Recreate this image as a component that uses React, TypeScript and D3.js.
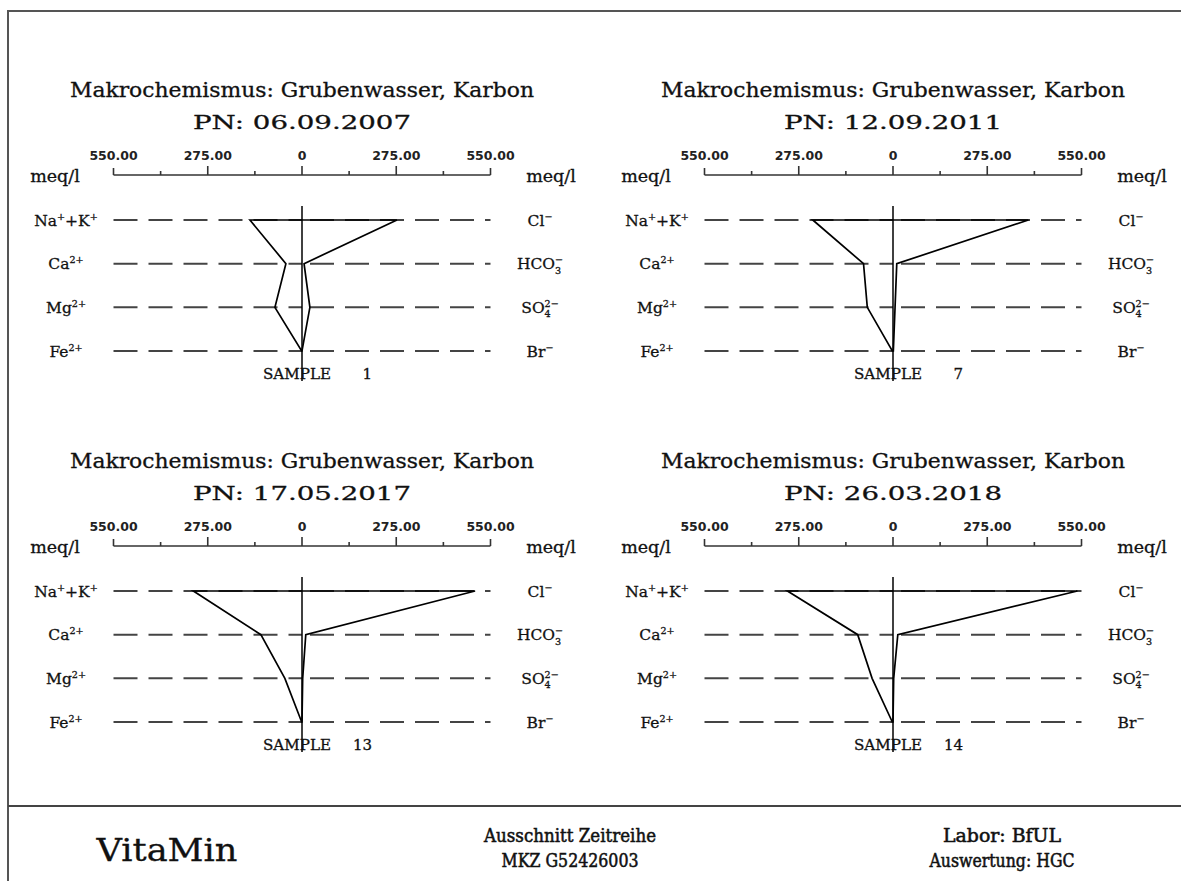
import React, { useEffect, useRef } from 'react';
import * as d3 from 'd3';

const W = 1181;
const H = 881;

// samples and their dates
const sampleNos = [1, 7, 13, 14];
const sampleDates = ['06.09.2007', '12.09.2011', '17.05.2017', '26.03.2018'];

// meq/l, left side (cations): Na+K, Ca, Mg, Fe
const cationVals = [
  [152, 47, 79, 1],
  [234, 86, 75, 2],
  [317, 120, 50, 1],
  [308, 103, 61, 2],
];
// meq/l, right side (anions): Cl, HCO3, SO4, Br
const anionVals = [
  [277, 6, 23, 0],
  [395, 11, 6, 1],
  [505, 11, 2, 0],
  [538, 14, 2, 0],
];

// label pieces: [text, kind]  kind: '' normal, 'sup' superscript, 'sub' subscript stacked under previous sup
const cationLabels: [string, string][][] = [
  [['Na', ''], ['+', 'sup'], ['+K', ''], ['+', 'sup']],
  [['Ca', ''], ['2+', 'sup']],
  [['Mg', ''], ['2+', 'sup']],
  [['Fe', ''], ['2+', 'sup']],
];
const anionLabels: [string, string][][] = [
  [['Cl', ''], ['−', 'sup']],
  [['HCO', ''], ['−', 'sup'], ['3', 'sub']],
  [['SO', ''], ['2−', 'sup'], ['4', 'sub']],
  [['Br', ''], ['−', 'sup']],
];

const axisMax = 550;
const minorTicks = [-412.5, -137.5, 137.5, 412.5];
const majorTicks = [-550, -275, 0, 275, 550];

const title = 'Makrochemismus: Grubenwasser, Karbon';
const footerLeft = 'VitaMin';
const footerMid = ['Ausschnitt Zeitreihe', 'MKZ G52426003'];
const footerRight = ['Labor: BfUL', 'Auswertung: HGC'];

const SERIF = "'DejaVu Serif', 'Liberation Serif', serif";
const SANS = "'DejaVu Sans', 'Liberation Sans', sans-serif";
const COND = "'DejaVu Serif Condensed', 'DejaVu Serif', serif";

const App = () => {
  const svgRef = useRef<SVGSVGElement>(null);

  useEffect(() => {
    const svg = d3.select(svgRef.current);
    svg.selectAll('*').remove();

    svg.append('rect').attr('width', W).attr('height', H).attr('fill', '#fff');

    // frame
    svg.append('path')
      .attr('d', `M${W + 5},11 H8 V${H + 5}`)
      .attr('fill', 'none').attr('stroke', '#555').attr('stroke-width', 2);
    svg.append('line')
      .attr('x1', 8).attr('x2', W + 5).attr('y1', 806).attr('y2', 806)
      .attr('stroke', '#444').attr('stroke-width', 2.2);

    // slightly heavier serif text like the plotter font
    const ink = (t) => t.attr('fill', '#111').attr('stroke', '#111').attr('stroke-width', 0.3);

    // draws a label made of pieces, centred at (cx, cy)
    const drawLabel = (parent, parts: [string, string][], cx: number, cy: number, size: number) => {
      const g = parent.append('g');
      let x = 0;
      let supStart = 0;
      let supEnd = 0;
      parts.forEach(([t, kind]) => {
        const small = kind !== '';
        const txt = g.append('text')
          .attr('font-family', SERIF)
          .attr('font-size', small ? size * 0.62 : size)
          .attr('y', kind === 'sup' ? -size * 0.38 : kind === 'sub' ? size * 0.28 : 0)
          .text(t);
        ink(txt);
        if (kind === 'sub') {
          txt.attr('x', supStart);
          const w = (txt.node() as SVGTextElement).getComputedTextLength();
          x = Math.max(supEnd, supStart + w);
        } else {
          txt.attr('x', x);
          const w = (txt.node() as SVGTextElement).getComputedTextLength();
          if (kind === 'sup') { supStart = x; supEnd = x + w; }
          x += w;
        }
      });
      g.attr('transform', `translate(${cx - x / 2},${cy + size * 0.36})`);
    };

    const panelCx = [302, 893];
    const panelOy = [0, 371];

    sampleNos.forEach((no, i) => {
      const cx = panelCx[i % 2];
      const oy = panelOy[Math.floor(i / 2)];
      const g = svg.append('g');

      const x = d3.scaleLinear().domain([-axisMax, axisMax]).range([cx - 188.5, cx + 188.5]);
      const y = d3.scalePoint<number>().domain([0, 1, 2, 3]).range([oy + 220, oy + 351]);

      ink(g.append('text')
        .attr('x', cx).attr('y', oy + 97)
        .attr('text-anchor', 'middle')
        .attr('font-family', SERIF).attr('font-size', 19.5)
        .attr('textLength', 464).attr('lengthAdjust', 'spacingAndGlyphs')
        .text(title));
      ink(g.append('text')
        .attr('x', cx).attr('y', oy + 129)
        .attr('text-anchor', 'middle')
        .attr('font-family', SERIF).attr('font-size', 19)
        .attr('textLength', 218).attr('lengthAdjust', 'spacingAndGlyphs')
        .text(`PN: ${sampleDates[i]}`));

      // scale bar
      const axY = oy + 175;
      g.append('line')
        .attr('x1', x(-axisMax)).attr('x2', x(axisMax)).attr('y1', axY).attr('y2', axY)
        .attr('stroke', '#333').attr('stroke-width', 1.6);
      g.selectAll('line.major').data(majorTicks).join('line')
        .attr('x1', d => x(d)).attr('x2', d => x(d))
        .attr('y1', axY).attr('y2', d => axY - (Math.abs(d) === axisMax ? 7 : 9))
        .attr('stroke', '#333').attr('stroke-width', 1.6);
      g.selectAll('line.minor').data(minorTicks).join('line')
        .attr('x1', d => x(d)).attr('x2', d => x(d))
        .attr('y1', axY).attr('y2', axY - 4)
        .attr('stroke', '#333').attr('stroke-width', 1.6);
      g.selectAll('text.tick').data(majorTicks).join('text')
        .attr('x', d => x(d)).attr('y', oy + 160)
        .attr('text-anchor', 'middle')
        .attr('font-family', SANS).attr('font-size', 12.5).attr('font-weight', 'bold').attr('fill', '#222')
        .text(d => (d === 0 ? '0' : Math.abs(d).toFixed(2)));

      [cx - 247, cx + 249].forEach(mx => {
        ink(g.append('text')
          .attr('x', mx).attr('y', oy + 182)
          .attr('text-anchor', 'middle')
          .attr('font-family', SERIF).attr('font-size', 17.5)
          .text('meq/l'));
      });

      // dashed guide lines
      [0, 1, 2, 3].forEach(k => {
        g.append('line')
          .attr('x1', x(-axisMax)).attr('x2', x(0)).attr('y1', y(k)).attr('y2', y(k))
          .attr('stroke', '#444').attr('stroke-width', 2).attr('stroke-dasharray', '24 11');
        g.append('line')
          .attr('x1', x(0)).attr('x2', x(axisMax)).attr('y1', y(k)).attr('y2', y(k))
          .attr('stroke', '#444').attr('stroke-width', 2).attr('stroke-dasharray', '24 11')
          .attr('stroke-dashoffset', 27);
        drawLabel(g, cationLabels[k], cx - 236, y(k), 15.5);
        drawLabel(g, anionLabels[k], cx + 238, y(k), 15.5);
      });

      // Stiff polygon
      const pts: [number, number][] = [
        ...cationVals[i].map((v, k) => [x(-v), y(k)] as [number, number]),
        ...anionVals[i].map((v, k) => [x(v), y(k)] as [number, number]).reverse(),
      ];
      g.append('path')
        .attr('d', d3.line()(pts) + 'Z')
        .attr('fill', 'none').attr('stroke', '#000').attr('stroke-width', 1.7)
        .attr('stroke-linejoin', 'miter');

      // centre line
      g.append('line')
        .attr('x1', x(0)).attr('x2', x(0)).attr('y1', oy + 206).attr('y2', oy + 381)
        .attr('stroke', '#000').attr('stroke-width', 1.5);

      ink(g.append('text')
        .attr('x', cx - 39).attr('y', oy + 379)
        .attr('font-family', SERIF).attr('font-size', 15)
        .attr('textLength', 68).attr('lengthAdjust', 'spacingAndGlyphs')
        .text('SAMPLE'));
      ink(g.append('text')
        .attr('x', cx + 70).attr('y', oy + 379)
        .attr('text-anchor', 'end')
        .attr('font-family', SERIF).attr('font-size', 15)
        .text(String(no)));
    });

    // footer
    ink(svg.append('text')
      .attr('x', 167).attr('y', 861)
      .attr('text-anchor', 'middle')
      .attr('font-family', SERIF).attr('font-size', 31)
      .attr('textLength', 141).attr('lengthAdjust', 'spacingAndGlyphs')
      .text(footerLeft));
    const footLens = [[172, 137], [118, 145]];
    [[570, footerMid], [1002, footerRight]].forEach(([fx, lines], j) => {
      (lines as string[]).forEach((t, k) => {
        svg.append('text')
          .attr('x', fx as number).attr('y', 842 + k * 25)
          .attr('text-anchor', 'middle')
          .attr('font-family', COND).attr('font-size', 18)
          .attr('fill', '#111').attr('stroke', '#111').attr('stroke-width', 0.5)
          .attr('textLength', footLens[j][k]).attr('lengthAdjust', 'spacingAndGlyphs')
          .text(t);
      });
    });
  }, []);

  return (
    <svg
      ref={svgRef}
      width={W}
      height={H}
      style={{ position: 'absolute', left: 0, top: 0, display: 'block' }}
    />
  );
};

export default App;
